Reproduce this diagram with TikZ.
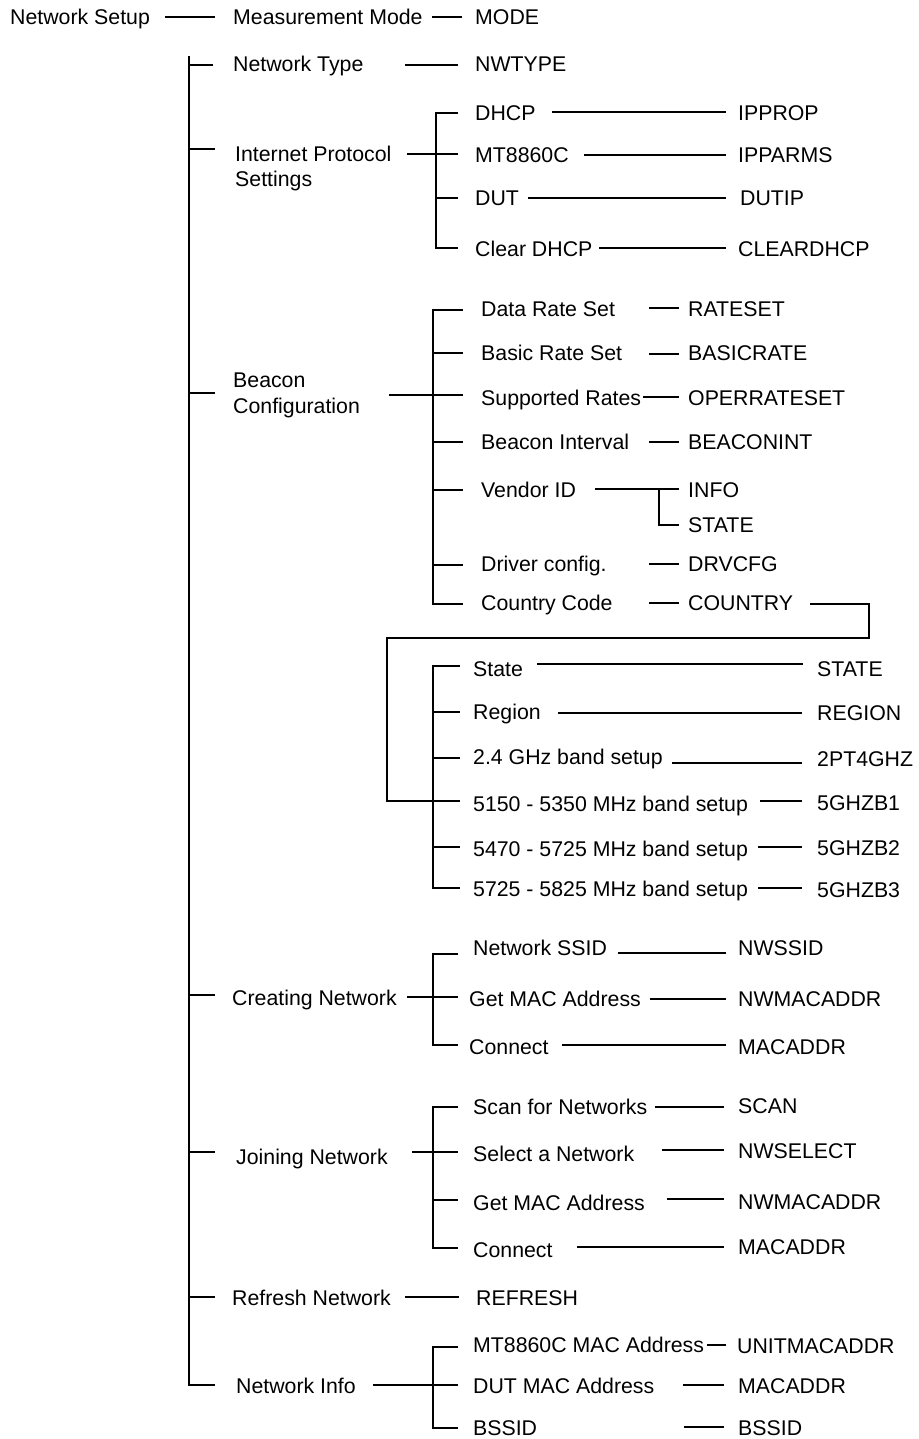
\documentclass[tikz,border=0pt]{standalone}
\usepackage{fontspec}
\setmainfont{Liberation Sans}
\newcommand\lbltext[4]{\node[lbl] (#1) at (#2,#3+7.6) {#4};}
\newcommand\hln[4]{\coordinate (#1a) at (#2,#4); \coordinate (#1b) at (#3,#4); \draw[ln] (#1a) -- (#1b);}
\newcommand\cornr[5]{\coordinate (#1a) at (#3,#4); \coordinate (#1b) at (#2,#4); \coordinate (#1c) at (#2,#5); \coordinate (#1d) at (#3,#5); \draw[ln] (#1a) -- (#1b) -- (#1c) -- (#1d);}
\begin{document}
\begin{tikzpicture}[x=1pt,y=-1pt,
  lbl/.style={anchor=base west,inner sep=0pt,font=\fontsize{21.3}{25}\selectfont},
  ln/.style={line width=2pt,line join=miter}]
\useasboundingbox (0,0) rectangle (918,1439);
% top row
\lbltext{ns}{10}{17}{Network Setup}
\lbltext{mm}{233}{17}{Measurement Mode}
\lbltext{mode}{475}{17}{MODE}
\hln{la}{165}{215}{17}
\hln{lb}{432}{462}{17}
% trunk
\coordinate (trtop) at (189,56);
\coordinate (trbot) at (189,1385);
\coordinate (trend) at (215,1385);
\draw[ln] (trtop) -- (trbot) -- (trend);
\hln{tb1}{189}{213}{65}
\hln{tb2}{189}{215}{149}
\hln{tb3}{189}{215}{393}
\hln{tb4}{189}{215}{995}
\hln{tb5}{189}{215}{1152}
\hln{tb6}{189}{215}{1297}
% network type
\lbltext{nt}{233}{64}{Network Type}
\lbltext{nwtype}{475}{64}{NWTYPE}
\hln{lc}{405}{458}{65}
% internet protocol
\lbltext{ip}{235}{154}{Internet Protocol}
\lbltext{ips}{235}{179}{Settings}
\hln{ipl}{407}{458}{154}
\cornr{ipv}{436}{458}{113}{248}
\hln{ipb}{436}{458}{198}
\lbltext{dhcp}{475}{113}{DHCP}
\lbltext{mt}{475}{155}{MT8860C}
\lbltext{dut}{475}{198}{DUT}
\lbltext{cdhcp}{475}{249}{Clear DHCP}
\hln{ipd1}{552}{726}{112}
\hln{ipd2}{584}{726}{155}
\hln{ipd3}{528}{726}{198}
\hln{ipd4}{599}{726}{248}
\lbltext{ipprop}{738}{113}{IPPROP}
\lbltext{ipparms}{738}{155}{IPPARMS}
\lbltext{dutip}{740}{198}{DUTIP}
\lbltext{cleardhcp}{738}{249}{CLEARDHCP}
% beacon
\lbltext{bc}{233}{380}{Beacon}
\lbltext{bcc}{233}{406}{Configuration}
\hln{bcl}{389}{463}{395}
\cornr{bcv}{433}{463}{310}{604}
\hln{bcb1}{433}{463}{353}
\hln{bcb2}{433}{463}{442}
\hln{bcb3}{433}{463}{490}
\hln{bcb4}{433}{463}{565}
\lbltext{drs}{481}{309}{Data Rate Set}
\lbltext{brs}{481}{353}{Basic Rate Set}
\lbltext{sr}{481}{398}{Supported Rates}
\lbltext{bi}{481}{442}{Beacon Interval}
\lbltext{vid}{481}{490}{Vendor ID}
\lbltext{dcf}{481}{564}{Driver config.}
\lbltext{cc}{481}{603}{Country Code}
\hln{bd1}{649}{679}{308}
\hln{bd2}{649}{679}{354}
\hln{bd3}{643}{679}{397}
\hln{bd4}{649}{679}{442}
\hln{bd5}{649}{679}{564}
\hln{bd6}{649}{679}{603}
\hln{vdl}{595}{679}{489}
\coordinate (vd1) at (659,489);
\coordinate (vd2) at (659,525);
\coordinate (vd3) at (679,525);
\draw[ln] (vd1) -- (vd2) -- (vd3);
\lbltext{rateset}{688}{309}{RATESET}
\lbltext{basicrate}{688}{353}{BASICRATE}
\lbltext{operrateset}{688}{398}{OPERRATESET}
\lbltext{beaconint}{688}{442}{BEACONINT}
\lbltext{info}{688}{490}{INFO}
\lbltext{vstate}{688}{525}{STATE}
\lbltext{drvcfg}{688}{564}{DRVCFG}
\lbltext{country}{688}{603}{COUNTRY}
% loop from COUNTRY to region list
\coordinate (lp1) at (810,604);
\coordinate (lp2) at (869,604);
\coordinate (lp3) at (869,638);
\coordinate (lp4) at (387,638);
\coordinate (lp5) at (387,801);
\coordinate (lp6) at (460,801);
\draw[ln] (lp1) -- (lp2) -- (lp3) -- (lp4) -- (lp5) -- (lp6);
% region section
\cornr{rgv}{433}{460}{666}{888}
\hln{rgb1}{433}{460}{712}
\hln{rgb2}{433}{460}{758}
\hln{rgb3}{433}{460}{847}
\lbltext{st}{473}{669}{State}
\lbltext{rg}{473}{712}{Region}
\lbltext{g24}{473}{757}{2.4 GHz band setup}
\lbltext{b1}{473}{804}{5150 - 5350 MHz band setup}
\lbltext{b2}{473}{849}{5470 - 5725 MHz band setup}
\lbltext{b3}{473}{889}{5725 - 5825 MHz band setup}
\hln{rgd1}{537}{803}{664}
\hln{rgd2}{558}{802}{713}
\hln{rgd3}{672}{802}{763}
\hln{rgd4}{760}{802}{801}
\hln{rgd5}{758}{802}{847}
\hln{rgd6}{758}{802}{888}
\lbltext{rstate}{817}{669}{STATE}
\lbltext{region}{817}{713}{REGION}
\lbltext{pt4}{817}{759}{2PT4GHZ}
\lbltext{gb1}{817}{803}{5GHZB1}
\lbltext{gb2}{817}{848}{5GHZB2}
\lbltext{gb3}{817}{890}{5GHZB3}
% creating network
\lbltext{cn}{232}{998}{Creating Network}
\hln{cnl}{407}{458}{997}
\cornr{cnv}{433}{458}{954}{1045}
\lbltext{nssid}{473}{948}{Network SSID}
\lbltext{gmac}{469}{999}{Get MAC Address}
\lbltext{con}{469}{1047}{Connect}
\hln{cnd1}{618}{726}{953}
\hln{cnd2}{650}{726}{999}
\hln{cnd3}{562}{726}{1045}
\lbltext{nwssid}{738}{948}{NWSSID}
\lbltext{nwmac}{738}{999}{NWMACADDR}
\lbltext{macaddr}{738}{1047}{MACADDR}
% joining network
\lbltext{jn}{236}{1157}{Joining Network}
\hln{jnl}{412}{458}{1152}
\cornr{jnv}{433}{458}{1107}{1248}
\hln{jnb}{433}{458}{1200}
\lbltext{scan}{473}{1107}{Scan for Networks}
\lbltext{sel}{473}{1154}{Select a Network}
\lbltext{jgmac}{473}{1203}{Get MAC Address}
\lbltext{jcon}{473}{1250}{Connect}
\hln{jnd1}{655}{724}{1107}
\hln{jnd2}{662}{724}{1150}
\hln{jnd3}{667}{724}{1199}
\hln{jnd4}{577}{724}{1247}
\lbltext{scanc}{738}{1106}{SCAN}
\lbltext{nwselect}{738}{1151}{NWSELECT}
\lbltext{jnwmac}{738}{1202}{NWMACADDR}
\lbltext{jmacaddr}{738}{1247}{MACADDR}
% refresh
\lbltext{rn}{232}{1298}{Refresh Network}
\hln{rnl}{405}{459}{1297}
\lbltext{refresh}{476}{1298}{REFRESH}
% network info
\lbltext{ni}{236}{1386}{Network Info}
\hln{nil}{373}{458}{1385}
\cornr{niv}{433}{458}{1347}{1428}
\lbltext{mtmac}{473}{1345}{MT8860C MAC Address}
\lbltext{dutmac}{473}{1386}{DUT MAC Address}
\lbltext{bssid}{473}{1428}{BSSID}
\hln{nid1}{707}{726}{1345}
\hln{nid2}{683}{724}{1385}
\hln{nid3}{684}{724}{1427}
\lbltext{unitmac}{737}{1346}{UNITMACADDR}
\lbltext{nimac}{738}{1386}{MACADDR}
\lbltext{nibssid}{738}{1428}{BSSID}
\end{tikzpicture}
\end{document}
